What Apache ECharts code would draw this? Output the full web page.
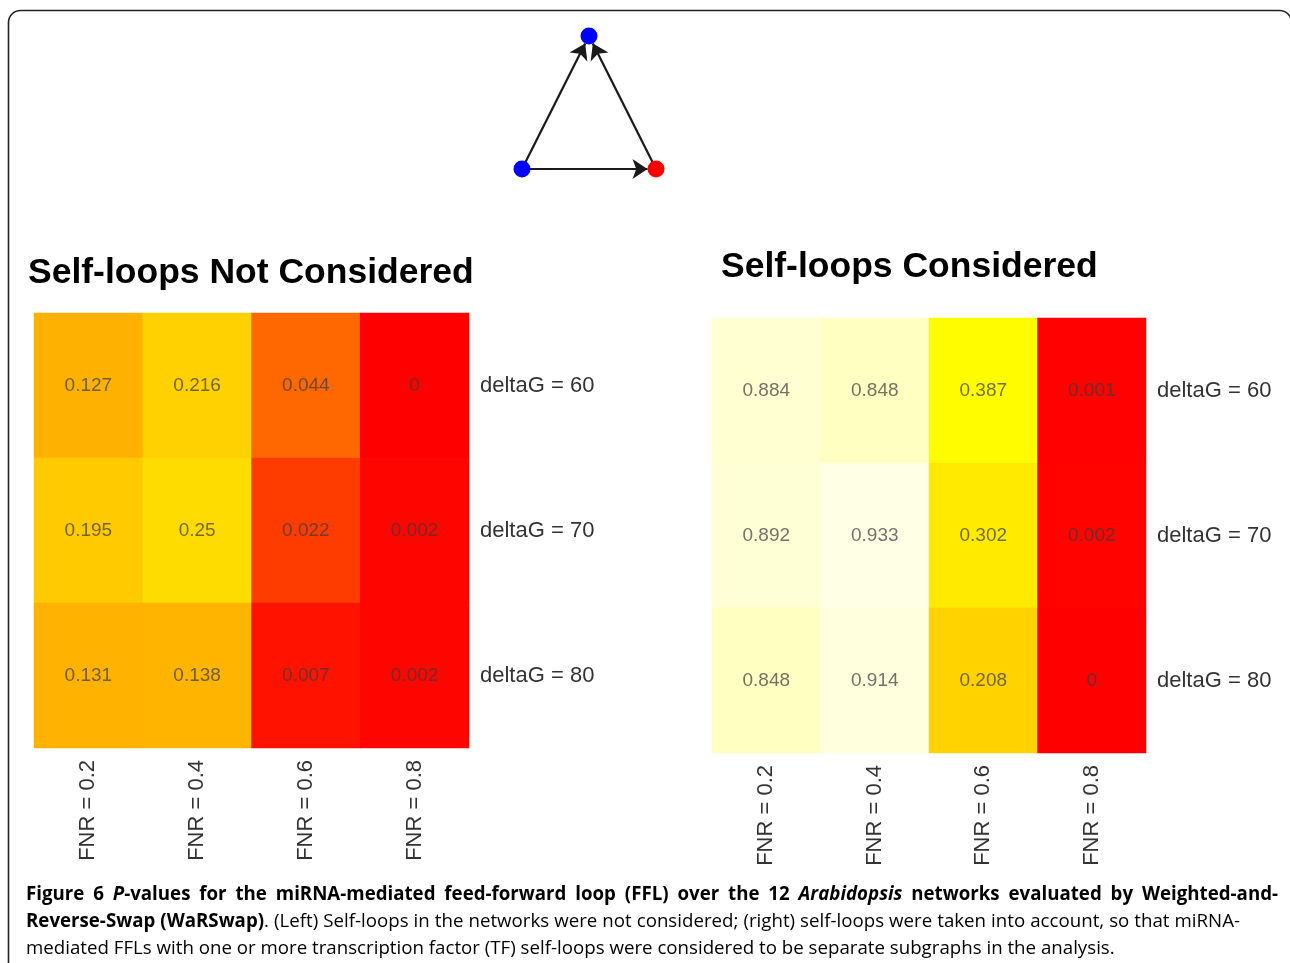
<!DOCTYPE html>
<html>
<head>
<meta charset="utf-8">
<script src="https://cdn.jsdelivr.net/npm/echarts@6/dist/echarts.min.js"></script>
<style>
  html, body { margin: 0; padding: 0; background: #fff; }
  #main { width: 1290px; height: 963px; }
</style>
</head>
<body>
<div id="main"></div>
<script>
// column / row categories
const fnrLabels = ['FNR = 0.2', 'FNR = 0.4', 'FNR = 0.6', 'FNR = 0.8'];
const deltaGLabels = ['deltaG = 60', 'deltaG = 70', 'deltaG = 80'];

// P-values, rows top to bottom (deltaG 60, 70, 80)
const pNotConsidered = [
    [0.127, 0.216, 0.044, 0],
    [0.195, 0.25, 0.022, 0.002],
    [0.131, 0.138, 0.007, 0.002]
];
const pConsidered = [
    [0.884, 0.848, 0.387, 0.001],
    [0.892, 0.933, 0.302, 0.002],
    [0.848, 0.914, 0.208, 0]
];

// FFL motif: node positions in a unit triangle and the edges
const motifNodes = [
    { name: 'tf1', pos: [0, 0], color: '#0000ff' },
    { name: 'mir', pos: [1, 0], color: '#ff0000' },
    { name: 'tf2', pos: [0.5, 1], color: '#0000ff' }
];
const motifEdges = [['tf1', 'tf2'], ['mir', 'tf2'], ['tf1', 'mir']];

// caption lines as [style, text] runs
const captionLines = [
    [['b', 'Figure 6 '], ['bi', 'P'], ['b', '-values for the miRNA-mediated feed-forward loop (FFL) over the 12 '],
        ['bi', 'Arabidopsis'], ['b', ' networks evaluated by Weighted-and-']],
    [['b', 'Reverse-Swap (WaRSwap)'], ['n', '. (Left) Self-loops in the networks were not considered; (right) self-loops were taken into account, so that miRNA-']],
    [['n', 'mediated FFLs with one or more transcription factor (TF) self-loops were considered to be separate subgraphs in the analysis.']]
];

function toCells(rows) {
    const out = [];
    rows.forEach(function (row, r) {
        row.forEach(function (v, c) {
            out.push([c, r, v]);
        });
    });
    return out;
}

const CAP_SIZE = 18.7;
const capFonts = {
    b: 'bold ' + CAP_SIZE + 'px "Open Sans"',
    bi: 'italic bold ' + CAP_SIZE + 'px "Open Sans"',
    n: CAP_SIZE + 'px "Open Sans"'
};
const captionRich = {
    b: { fontFamily: 'Open Sans', fontWeight: 'bold', fontSize: CAP_SIZE, color: '#222' },
    bi: { fontFamily: 'Open Sans', fontWeight: 'bold', fontStyle: 'italic', fontSize: CAP_SIZE, color: '#222' },
    n: { fontFamily: 'Open Sans', fontSize: CAP_SIZE, color: '#444' }
};

// justify a caption line to a given width by widening the spaces
const measureCtx = document.createElement('canvas').getContext('2d');
function captionText(runs, lineIdx, target) {
    if (!target) {
        return runs.map(function (r) { return '{' + r[0] + '|' + r[1] + '}'; }).join('');
    }
    let wordsW = 0, gaps = 0;
    runs.forEach(function (r) {
        measureCtx.font = capFonts[r[0]];
        r[1].split(' ').forEach(function (w) { wordsW += measureCtx.measureText(w).width; });
        gaps += r[1].split(' ').length - 1;
    });
    const key = 'sp' + lineIdx;
    captionRich[key] = { width: (target - wordsW) / gaps, fontSize: CAP_SIZE, fontFamily: 'Open Sans' };
    return runs.map(function (r) {
        return r[1].split(' ').map(function (w) {
            return w ? '{' + r[0] + '|' + w + '}' : '';
        }).join('{' + key + '| }');
    }).join('');
}

const cellLabel = {
    show: true,
    formatter: function (p) { return String(p.value[2]); },
    fontFamily: 'Liberation Sans, Arial, sans-serif',
    fontSize: 19,
    color: 'rgba(60,60,60,0.72)'
};

function heatAxes(gi) {
    return {
        x: {
            type: 'category', gridIndex: gi, data: fnrLabels, position: 'bottom',
            axisLine: { show: false }, axisTick: { show: false }, splitArea: { show: false },
            axisLabel: { rotate: 90, margin: 12, fontSize: 22, color: '#333',
                fontFamily: 'Liberation Sans, Arial, sans-serif' }
        },
        y: {
            type: 'category', gridIndex: gi, data: deltaGLabels, inverse: true, position: 'right',
            axisLine: { show: false }, axisTick: { show: false }, splitArea: { show: false },
            axisLabel: { margin: 11, fontSize: 22, color: '#333',
                fontFamily: 'Liberation Sans, Arial, sans-serif' }
        }
    };
}

const axL = heatAxes(0), axR = heatAxes(1);
const captionTargets = [1252, 1214, 0];
const captionTops = [885, 912, 939];

const chart = echarts.init(document.getElementById('main'), null, { renderer: 'canvas' });

const titleStyle = { fontFamily: 'Liberation Sans, Arial, sans-serif', fontSize: 35.5, fontWeight: 'bold', color: '#000' };

const option = {
    animation: false,
    backgroundColor: '#fff',
    grid: [
        { left: 34, top: 313, width: 435, height: 435 },
        { left: 712, top: 318, width: 434, height: 435 },
        { left: 522, top: 36, width: 134, height: 133 }
    ],
    xAxis: [axL.x, axR.x, { type: 'value', gridIndex: 2, min: 0, max: 1, show: false }],
    yAxis: [axL.y, axR.y, { type: 'value', gridIndex: 2, min: 0, max: 1, show: false }],
    visualMap: [
        {
            show: false, seriesIndex: 0, min: 0, max: 0.25,
            inRange: { color: ['#ff0000', '#ff4400', '#ff7400', '#ff8e00', '#ffa200', '#ffb000',
                '#ffba00', '#ffc400', '#ffcc00', '#ffd400', '#ffdc00'] }
        },
        {
            show: false, seriesIndex: 1, min: 0, max: 1,
            inRange: { color: ['#ff0000', '#ffa000', '#ffd000', '#ffea00', '#ffff00', '#ffff2a',
                '#ffff58', '#ffff85', '#ffffae', '#ffffd8', '#ffffff'] }
        }
    ],
    title: [
        { text: 'Self-loops Not Considered', left: 23, top: 250, textStyle: titleStyle },
        { text: 'Self-loops Considered', left: 716, top: 244, textStyle: titleStyle }
    ],
    graphic: [
        {
            type: 'rect', z: -1, silent: true,
            shape: { x: 8.5, y: 10.5, width: 1283, height: 1000, r: 12 },
            style: { fill: 'none', stroke: '#222', lineWidth: 1.6 }
        }
    ].concat(captionLines.map(function (runs, i) {
        return {
            type: 'text', left: 26, top: captionTops[i],
            style: { text: captionText(runs, i, captionTargets[i]), rich: captionRich }
        };
    })),
    series: [
        {
            type: 'heatmap', xAxisIndex: 0, yAxisIndex: 0,
            data: toCells(pNotConsidered), label: cellLabel,
            emphasis: { disabled: true }
        },
        {
            type: 'heatmap', xAxisIndex: 1, yAxisIndex: 1,
            data: toCells(pConsidered), label: cellLabel,
            emphasis: { disabled: true }
        },
        {
            type: 'graph', coordinateSystem: 'cartesian2d', xAxisIndex: 2, yAxisIndex: 2,
            symbolSize: 17,
            edgeSymbol: ['none', 'arrow'], edgeSymbolSize: 15,
            lineStyle: { color: '#1a1a1a', width: 2.2, opacity: 1 },
            data: motifNodes.map(function (n) {
                return { name: n.name, value: n.pos, itemStyle: { color: n.color } };
            }),
            links: motifEdges.map(function (e) { return { source: e[0], target: e[1] }; }),
            label: { show: false },
            emphasis: { disabled: true }
        }
    ]
};

chart.setOption(option);
</script>
</body>
</html>
